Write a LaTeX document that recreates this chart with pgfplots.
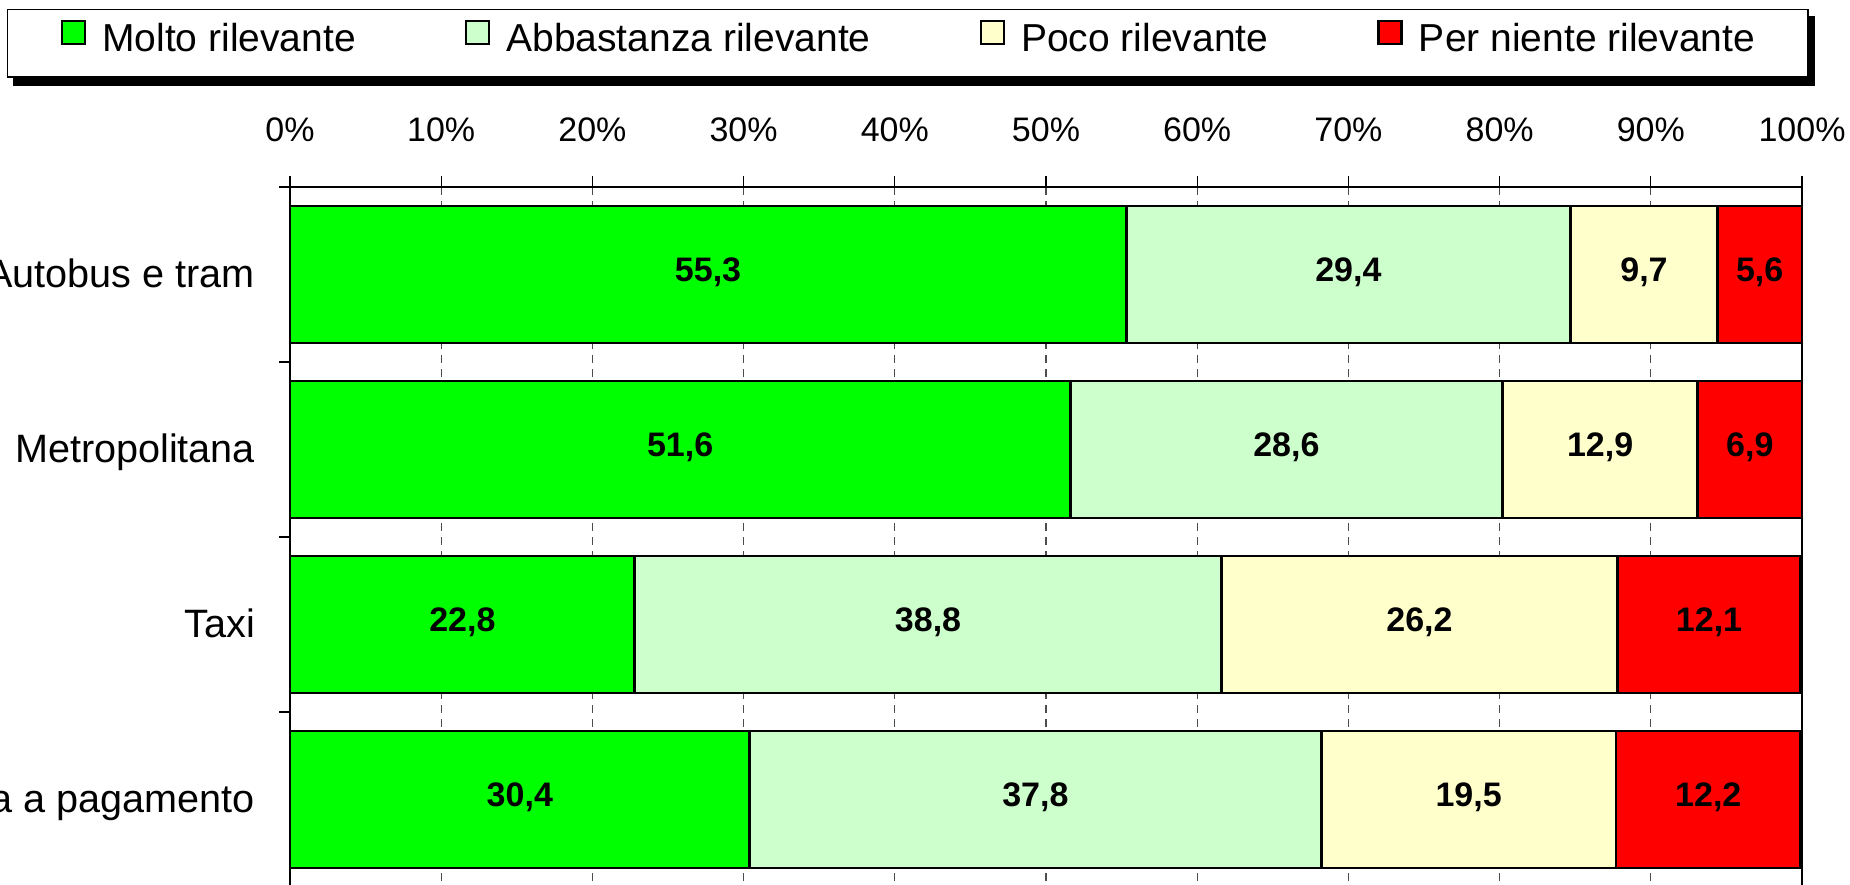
\documentclass[border=0pt]{standalone}
\usepackage{pgfplots}
\pgfplotsset{compat=1.18}
\usepackage{pgfplotstable}
\usepackage{fontspec}
\setmainfont{Liberation Sans}

\definecolor{c1}{HTML}{00FF00}
\definecolor{c2}{HTML}{CCFFCC}
\definecolor{c3}{HTML}{FFFFCC}
\definecolor{c4}{HTML}{FF0000}

\pgfplotstableread{
y a b c d
0 55.3 29.4 9.7 5.6
1 51.6 28.6 12.9 6.9
2 22.8 38.8 26.2 12.1
3 30.4 37.8 19.5 12.2
}\data

\pgfplotsset{
  seg/.style={
    fill=#1, draw=black, line width=1.4pt,
  },
  lab/.style={
    visualization depends on={\thisrow{#1} \as \val},
    nodes near coords={\pgfmathprintnumber[fixed,fixed zerofill,precision=1,use comma,assume math mode=true]{\val}},
    every node near coord/.append style={anchor=base, yshift=-3.3pt,
      font=\bfseries\fontsize{17}{20}\selectfont, text=black, inner sep=0pt},
  },
}

\begin{document}
\begin{tikzpicture}
\useasboundingbox (0pt,0pt) rectangle (925pt,442pt);
\clip (0pt,0pt) rectangle (925pt,442pt);
% legend frame shadow
\fill[black] (6.5pt,434pt) rectangle (907.5pt,399pt);
\begin{axis}[
  at={(145pt,-1.5pt)}, anchor=south west,
  scale only axis, width=756pt, height=350pt,
  xbar stacked, bar width=68.5pt,
  xmin=0, xmax=100, ymin=-0.5, ymax=3.5, y dir=reverse,
  axis line style={black, line width=0.6pt},
  xtick={0,10,20,30,40,50,60,70,80,90,100},
  xticklabels={0\%,10\%,20\%,30\%,40\%,50\%,60\%,70\%,80\%,90\%,100\%},
  xtick pos=right, xticklabel pos=right,
  xticklabel style={font=\fontsize{17}{20}\selectfont, anchor=base, inner sep=0pt, yshift=17.25pt},
  ytick={-0.5,0.5,1.5,2.5,3.5},
  yticklabels={},
  ytick pos=left,
  extra y ticks={0,1,2,3},
  extra y tick labels={Autobus e tram, Metropolitana, Taxi, Sosta a pagamento},
  extra y tick style={major tick length=0pt, grid=none,
    yticklabel style={font=\fontsize{19.8}{22}\selectfont, anchor=base east, inner sep=0pt, xshift=-17.3pt, yshift=-6.5pt}},
  tick align=outside, major tick length=5.5pt,
  tick style={black, line width=0.6pt},
  xmajorgrids, major grid style={black!70, line width=0.6pt, dash pattern=on 4pt off 3pt},
  legend columns=4,
  legend image code/.code={\draw[#1, draw=black, line width=1.3pt] (0pt,0pt) rectangle (11.5pt,11.5pt);},
  legend style={at={(-0.18717,1.25429)}, anchor=north west,
    draw=black, line width=0.6pt, fill=white,
    inner xsep=26.5pt, inner ysep=5pt,
    font=\fontsize{19.5}{22}\selectfont,
    nodes={inner sep=0pt, text height=15.5pt, text depth=7.5pt},
    /tikz/every odd column/.append style={column sep=8pt},
    /tikz/every even column/.append style={column sep=54.5pt},
  },
]
\addplot[seg=c1, lab=a] table[x=a, y=y] {\data};
\addplot[seg=c2, lab=b] table[x=b, y=y] {\data};
\addplot[seg=c3, lab=c] table[x=c, y=y] {\data};
\addplot[seg=c4, lab=d] table[x=d, y=y] {\data};
\legend{Molto rilevante, Abbastanza rilevante, Poco rilevante, Per niente rilevante}
\end{axis}
\end{tikzpicture}
\end{document}
